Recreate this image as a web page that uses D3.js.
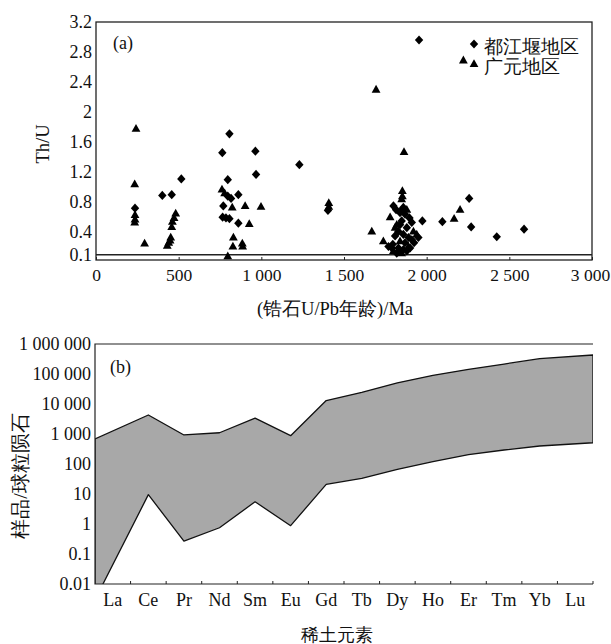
<!DOCTYPE html>
<html>
<head>
<meta charset="utf-8">
<script src="https://cdn.jsdelivr.net/npm/d3@7"></script>
<style>
  html, body { margin: 0; padding: 0; background: #fff; }
</style>
</head>
<body>
<div id="chart"></div>
<script>
// (a) Th/U vs zircon U/Pb age, [age Ma, Th/U]
const dujiangyan = [
  [236, 0.72], [401, 0.89], [458, 0.90], [516, 1.11],
  [807, 1.71], [764, 1.46], [964, 1.48], [968, 1.17], [797, 1.10], [1230, 1.30],
  [861, 0.90], [797, 0.88], [817, 0.85], [770, 0.75], [766, 0.60], [786, 0.59],
  [807, 0.58], [861, 0.52], [1403, 0.69], [1954, 2.96],
  [1799, 0.75], [1815, 0.70], [1859, 0.73], [1839, 0.66], [1896, 0.59], [1910, 0.53],
  [1974, 0.55], [1849, 0.55], [1829, 0.41], [1859, 0.37], [1809, 0.35], [1890, 0.33],
  [1910, 0.30], [1869, 0.26], [1795, 0.24], [1769, 0.21], [1829, 0.19], [1859, 0.17],
  [1880, 0.15], [1819, 0.12], [1789, 0.19], [1900, 0.19], [1924, 0.26], [1839, 0.50],
  [1880, 0.46], [1869, 0.64], [1843, 0.68], [1950, 0.33],
  [2095, 0.54], [2257, 0.85], [2269, 0.47], [2424, 0.34], [2589, 0.44]
];
const guangyuan = [
  [242, 1.78], [234, 1.04], [236, 0.63], [236, 0.57], [234, 0.53], [294, 0.25],
  [482, 0.65], [472, 0.59], [462, 0.54], [458, 0.47], [452, 0.33], [448, 0.29],
  [431, 0.22], [440, 0.26],
  [762, 0.97], [778, 0.92], [824, 0.73], [902, 0.75], [998, 0.74], [927, 0.51],
  [831, 0.33], [828, 0.21], [887, 0.21], [885, 0.25], [797, 0.08],
  [1408, 0.79], [1408, 0.74], [1694, 2.30], [1863, 1.47], [2222, 2.69],
  [1853, 0.95], [1853, 0.88], [1849, 0.84], [1880, 0.70], [1779, 0.60], [1668, 0.41],
  [1738, 0.28], [1819, 0.50], [1809, 0.46], [1920, 0.41], [1940, 0.37], [1839, 0.28],
  [1890, 0.21], [1799, 0.15], [1849, 0.12], [1829, 0.17],
  [2166, 0.58], [2202, 0.70]
];
const ageTicks = [0, 500, 1000, 1500, 2000, 2500, 3000];
const thuTicks = [0.1, 0.4, 0.8, 1.2, 1.6, 2, 2.4, 2.8, 3.2];
const thuLimit = 0.1;
const legendNames = ["都江堰地区", "广元地区"];

// (b) chondrite-normalised REE envelope
const ree = ["La", "Ce", "Pr", "Nd", "Sm", "Eu", "Gd", "Tb", "Dy", "Ho", "Er", "Tm", "Yb", "Lu"];
const reeUpper = [680, 4300, 930, 1100, 3400, 880, 13000, 24500, 51000, 90000, 143000, 215000, 324000, 430000];
const reeLower = [0.003, 9.5, 0.27, 0.75, 5.5, 0.88, 21, 33, 66, 119, 204, 293, 398, 510];
const logTicks = [0.01, 0.1, 1, 10, 100, 1e3, 1e4, 1e5, 1e6];

const W = 611, H = 644;
const AXIS = "#222";
const FONT = "Liberation Serif";
const TICK_SIZE = 18;

const svg = d3.select("#chart").append("svg")
  .attr("width", W)
  .attr("height", H)
  .attr("viewBox", `0 0 ${W} ${H}`)
  .attr("font-family", FONT)
  .style("display", "block");

const spaced = d => d3.format(",")(d).replace(/,/g, " ");

// custom marker shapes
const diamond = {
  draw(ctx) {
    ctx.moveTo(0, -4.6); ctx.lineTo(4.2, 0); ctx.lineTo(0, 4.6); ctx.lineTo(-4.2, 0); ctx.closePath();
  }
};
const triangle = {
  draw(ctx) {
    ctx.moveTo(0, -4.7); ctx.lineTo(4.4, 3.1); ctx.lineTo(-4.4, 3.1); ctx.closePath();
  }
};

// d3 axes set their own sans-serif family, so reset it on the axis groups
const styleAxis = g => {
  g.attr("font-family", FONT).attr("font-size", TICK_SIZE);
  g.selectAll("text").attr("fill", "#111");
};

// ---------- panel (a) ----------
const a = { left: 96, right: 592, top: 22, bottom: 260 };
const xa = d3.scaleLinear().domain([0, 3000]).range([a.left, a.right]);
const ya = d3.scaleLinear().domain([0.03, 3.2]).range([a.bottom, a.top]);

const ga = svg.append("g");

ga.append("g")
  .attr("transform", `translate(0,${a.bottom})`)
  .call(d3.axisBottom(xa).tickValues(ageTicks).tickFormat(spaced)
    .tickSizeInner(-3).tickSizeOuter(0).tickPadding(9))
  .call(g => g.select(".domain").remove())
  .call(g => g.selectAll(".tick line").attr("stroke", AXIS))
  .call(styleAxis)
  .call(g => g.attr("font-size", 17.5))
  // last label sits at the page edge, nudge it in
  .call(g => g.selectAll(".tick text").filter(d => d === 3000).attr("dx", -2));

ga.append("g")
  .attr("transform", `translate(${a.left},0)`)
  .call(d3.axisLeft(ya).tickValues(thuTicks).tickFormat(d => String(d))
    .tickSize(0).tickPadding(4))
  .call(g => g.select(".domain").remove())
  .call(styleAxis);

ga.append("rect")
  .attr("x", a.left).attr("y", a.top)
  .attr("width", a.right - a.left).attr("height", a.bottom - a.top)
  .attr("fill", "none").attr("stroke", AXIS).attr("stroke-width", 1.3);

ga.append("line")
  .attr("x1", xa(0)).attr("x2", xa(3000))
  .attr("y1", ya(thuLimit)).attr("y2", ya(thuLimit))
  .attr("stroke", AXIS).attr("stroke-width", 1.3);

ga.append("g").selectAll("path")
  .data(dujiangyan)
  .join("path")
  .attr("d", d3.symbol().type(diamond))
  .attr("transform", d => `translate(${xa(d[0])},${ya(d[1])})`)
  .attr("fill", "#000");

ga.append("g").selectAll("path")
  .data(guangyuan)
  .join("path")
  .attr("d", d3.symbol().type(triangle))
  .attr("transform", d => `translate(${xa(d[0])},${ya(d[1])})`)
  .attr("fill", "#000");

// legend
const legend = ga.append("g").attr("transform", "translate(474,44)");
legend.append("path").attr("d", d3.symbol().type(diamond)).attr("fill", "#000");
legend.append("path").attr("d", d3.symbol().type(triangle)).attr("fill", "#000")
  .attr("transform", "translate(0,20)");
legend.selectAll("text")
  .data(legendNames)
  .join("text")
  .attr("x", 10)
  .attr("y", (d, i) => 9 + i * 20)
  .attr("font-size", 18.5)
  .attr("fill", "#111")
  .text(d => d);

ga.append("text").attr("x", 113).attr("y", 49)
  .attr("font-size", 18).attr("fill", "#111").text("(a)");

ga.append("text")
  .attr("transform", "translate(43,144) rotate(-90)")
  .attr("text-anchor", "middle")
  .attr("dy", "0.35em")
  .attr("font-size", 18.5)
  .attr("fill", "#111")
  .text("Th/U");

ga.append("text")
  .attr("x", 335).attr("y", 315)
  .attr("text-anchor", "middle")
  .attr("font-size", 18.5)
  .attr("fill", "#111")
  .text("(锆石U/Pb年龄)/Ma");

// ---------- panel (b) ----------
const b = { left: 95, right: 593, top: 344, bottom: 584 };
const xb = d3.scaleBand().domain(ree).range([b.left, b.right]);
const yb = d3.scaleLog().domain([0.01, 1e6]).range([b.bottom, b.top]);
const bw = xb.bandwidth();

// envelope ends run to the frame edges, inner elements sit mid-band
const px = (d, i) => i === 0 ? xb(d) : i === ree.length - 1 ? xb(d) + bw : xb(d) + bw / 2;

const gb = svg.append("g");

gb.append("clipPath").attr("id", "clipB")
  .append("rect")
  .attr("x", b.left).attr("y", b.top)
  .attr("width", b.right - b.left).attr("height", b.bottom - b.top);

const upperPts = ree.map((d, i) => [px(d, i), yb(reeUpper[i])]);
const lowerPts = ree.map((d, i) => [px(d, i), yb(reeLower[i])]).reverse();

gb.append("path")
  .attr("clip-path", "url(#clipB)")
  .attr("d", d3.line()(upperPts.concat(lowerPts)) + "Z")
  .attr("fill", "#a8a8a8")
  .attr("stroke", "#111")
  .attr("stroke-width", 1.3)
  .attr("stroke-linejoin", "round");

gb.append("path")
  .attr("d", `M${b.right},${b.top}H${b.left}V${b.bottom}H${b.right}`)
  .attr("fill", "none").attr("stroke", AXIS).attr("stroke-width", 1.2);

gb.append("g").selectAll("line")
  .data(ree)
  .join("line")
  .attr("x1", d => xb(d) + bw).attr("x2", d => xb(d) + bw)
  .attr("y1", b.bottom).attr("y2", b.bottom - 3)
  .attr("stroke", AXIS);

gb.append("g")
  .attr("transform", `translate(0,${b.bottom})`)
  .call(d3.axisBottom(xb).tickSize(0).tickPadding(9))
  .call(g => g.select(".domain").remove())
  .call(styleAxis);

gb.append("g")
  .attr("transform", `translate(${b.left},0)`)
  .call(d3.axisLeft(yb).tickValues(logTicks)
    .tickFormat(d => d >= 1 ? spaced(d) : String(d))
    .tickSize(0).tickPadding(4))
  .call(g => g.select(".domain").remove())
  .call(styleAxis);

gb.append("text").attr("x", 110).attr("y", 373)
  .attr("font-size", 18).attr("fill", "#111").text("(b)");

gb.append("text")
  .attr("transform", "translate(20,476) rotate(-90)")
  .attr("text-anchor", "middle")
  .attr("dy", "0.35em")
  .attr("font-size", 19.5)
  .attr("fill", "#111")
  .text("样品/球粒陨石");

gb.append("text")
  .attr("x", 337).attr("y", 641)
  .attr("text-anchor", "middle")
  .attr("font-size", 17.5)
  .attr("fill", "#111")
  .text("稀土元素");
</script>
</body>
</html>
